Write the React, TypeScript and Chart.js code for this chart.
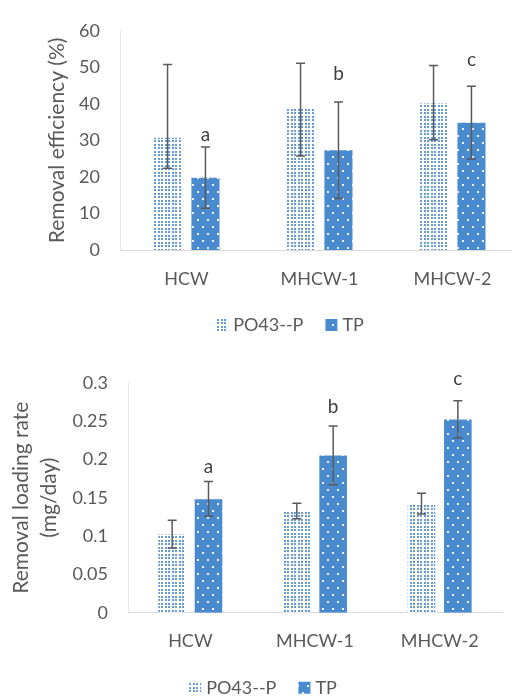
import React, { useEffect, useRef } from "react";
import { Chart, registerables } from "chart.js";
Chart.register(...registerables);

// ---------- data ----------
const categories = ["HCW", "MHCW-1", "MHCW-2"];
const seriesLabels = ["PO43--P", "TP"];

// Chart 1: removal efficiency (%)
const effPO4 = [30.7, 39.0, 40.1];
const effPO4Hi = [50.8, 51.1, 50.5];
const effPO4Lo = [22.4, 25.7, 30.2];
const effTP = [19.8, 27.3, 34.8];
const effTPHi = [28.2, 40.5, 44.8];
const effTPLo = [11.4, 14.1, 24.9];
const effLetters = ["a", "b", "c"];
const effLetterY = [31.6, 48.2, 52.1];
const effMax = 60;
const effStep = 10;
const effTitle = "Removal efficiency (%)";

// Chart 2: removal loading rate (mg/day)
const ratePO4 = [0.102, 0.132, 0.142];
const ratePO4Hi = [0.1205, 0.1427, 0.1557];
const ratePO4Lo = [0.0844, 0.1226, 0.1287];
const rateTP = [0.148, 0.205, 0.252];
const rateTPHi = [0.171, 0.2435, 0.2766];
const rateTPLo = [0.126, 0.167, 0.228];
const rateLetters = ["a", "b", "c"];
const rateLetterY = [0.19, 0.268, 0.305];
const rateMax = 0.3;
const rateStep = 0.05;
const rateTitle = ["Removal loading rate", "(mg/day)"];

// ---------- styles ----------
const BLUE = "#4a8bd0";
const TEXT = "#595959";
const FONT = "Lato";

function makePO4Pattern(ctx: CanvasRenderingContext2D) {
  const c = document.createElement("canvas");
  c.width = 7;
  c.height = 7;
  const g = c.getContext("2d")!;
  g.fillStyle = "#ffffff";
  g.fillRect(0, 0, 7, 7);
  g.fillStyle = BLUE;
  g.globalAlpha = 0.85;
  for (const x of [0, 4]) for (const y of [0, 4]) g.fillRect(x, y, 2, 2);
  return ctx.createPattern(c, "repeat")!;
}

function makeTPPattern(ctx: CanvasRenderingContext2D) {
  const c = document.createElement("canvas");
  c.width = 10;
  c.height = 14;
  const g = c.getContext("2d")!;
  g.fillStyle = BLUE;
  g.fillRect(0, 0, 10, 14);
  g.fillStyle = "rgba(255,255,255,0.9)";
  g.fillRect(2, 2, 2, 2);
  g.fillRect(7, 9, 2, 2);
  return ctx.createPattern(c, "repeat")!;
}

const errorBarPlugin = {
  id: "errorBars",
  afterDatasetsDraw(chart: any, _args: any, opts: any) {
    const { ctx } = chart;
    const y = chart.scales.y;
    ctx.save();
    ctx.strokeStyle = "#5a5a5a";
    ctx.lineWidth = 1.5;
    chart.data.datasets.forEach((_ds: any, d: number) => {
      const meta = chart.getDatasetMeta(d);
      meta.data.forEach((bar: any, i: number) => {
        const x = bar.x;
        const yh = y.getPixelForValue(opts.hi[d][i]);
        const yl = y.getPixelForValue(opts.lo[d][i]);
        ctx.beginPath();
        ctx.moveTo(x, yh);
        ctx.lineTo(x, yl);
        ctx.moveTo(x - 4.5, yh);
        ctx.lineTo(x + 4.5, yh);
        ctx.moveTo(x - 4.5, yl);
        ctx.lineTo(x + 4.5, yl);
        ctx.stroke();
      });
    });
    ctx.restore();
  },
};

const letterPlugin = {
  id: "letters",
  afterDatasetsDraw(chart: any, _args: any, opts: any) {
    const { ctx } = chart;
    const y = chart.scales.y;
    const meta = chart.getDatasetMeta(opts.dataset);
    ctx.save();
    ctx.fillStyle = "#404040";
    ctx.font = `19px ${FONT}`;
    ctx.textAlign = "center";
    ctx.textBaseline = "middle";
    opts.text.forEach((t: string, i: number) => {
      ctx.fillText(t, meta.data[i].x, y.getPixelForValue(opts.values[i]));
    });
    ctx.restore();
  },
};

const customLegendPlugin = {
  id: "customLegend",
  afterDraw(chart: any, _args: any, opts: any) {
    const { ctx, chartArea } = chart;
    ctx.save();
    ctx.font = `18px ${FONT}`;
    ctx.textBaseline = "middle";
    const box = 12;
    const gap = 5;
    const spacing = 22;
    const items = chart.data.datasets.map((ds: any) => ({
      label: ds.label,
      fill: ds.backgroundColor,
      w: box + gap + ctx.measureText(ds.label).width,
    }));
    const total = items.reduce((s: number, it: any) => s + it.w, 0) + spacing * (items.length - 1);
    let x = opts.centerX - total / 2;
    const yc = chartArea.bottom + opts.offsetY;
    items.forEach((it: any) => {
      ctx.fillStyle = it.fill;
      ctx.fillRect(x, yc - box / 2, box, box);
      ctx.fillStyle = TEXT;
      ctx.fillText(it.label, x + box + gap, yc);
      x += it.w + spacing;
    });
    ctx.restore();
  },
};

type PanelProps = {
  top: number;
  width: number;
  height: number;
  yAxisWidth: number;
  plotTop: number;
  plotBottom: number;
  rightPad: number;
  po4: number[];
  tp: number[];
  po4Hi: number[];
  po4Lo: number[];
  tpHi: number[];
  tpLo: number[];
  letters: string[];
  letterY: number[];
  yMax: number;
  yStep: number;
  title: string | string[];
  titlePad: number;
  catPct: number;
  barPct: number;
  legendCenterX: number;
};

function Panel(p: PanelProps) {
  const ref = useRef<HTMLCanvasElement>(null);
  useEffect(() => {
    const canvas = ref.current!;
    const ctx = canvas.getContext("2d")!;
    const chart = new Chart(ctx, {
      type: "bar",
      data: {
        labels: categories,
        datasets: [
          {
            label: seriesLabels[0],
            data: p.po4,
            backgroundColor: makePO4Pattern(ctx) as any,
            borderWidth: 0,
            categoryPercentage: p.catPct,
            barPercentage: p.barPct,
          },
          {
            label: seriesLabels[1],
            data: p.tp,
            backgroundColor: makeTPPattern(ctx) as any,
            borderWidth: 0,
            categoryPercentage: p.catPct,
            barPercentage: p.barPct,
          },
        ],
      },
      options: {
        responsive: false,
        animation: false,
        devicePixelRatio: 1,
        layout: { padding: { top: p.plotTop, left: 0, right: p.rightPad, bottom: 0 } },
        scales: {
          x: {
            grid: { display: false, drawTicks: false },
            border: { display: true, color: "#d9d9d9", width: 1 },
            ticks: { padding: 18, color: TEXT, font: { family: FONT, size: 18 } },
            afterFit: (s: any) => {
              s.height = p.height - p.plotBottom;
            },
          },
          y: {
            min: 0,
            max: p.yMax,
            ticks: {
              stepSize: p.yStep,
              padding: 20,
              color: TEXT,
              font: { family: FONT, size: 18 },
              callback: (v: any) => String(Math.round(Number(v) * 1000) / 1000),
            },
            grid: { display: false, drawTicks: false },
            border: { display: true, color: "#e6e6e6", width: 1 },
            title: {
              display: true,
              text: p.title,
              color: TEXT,
              font: { family: FONT, size: 21, lineHeight: 1.3 },
              padding: { top: p.titlePad, bottom: 0 },
            },
            afterFit: (s: any) => {
              s.width = p.yAxisWidth;
            },
          },
        },
        plugins: {
          legend: { display: false },
          tooltip: { enabled: false },
          errorBars: { hi: [p.po4Hi, p.tpHi], lo: [p.po4Lo, p.tpLo] },
          letters: { dataset: 1, text: p.letters, values: p.letterY },
          customLegend: { centerX: p.legendCenterX, offsetY: 75 },
        } as any,
      },
      plugins: [errorBarPlugin, letterPlugin, customLegendPlugin],
    });
    return () => chart.destroy();
  }, []);
  return (
    <canvas
      ref={ref}
      width={p.width}
      height={p.height}
      style={{ position: "absolute", left: 0, top: p.top, width: p.width, height: p.height }}
    />
  );
}

export default function App() {
  return (
    <div
      style={{
        position: "fixed",
        left: 0,
        top: 0,
        width: 512,
        height: 699,
        overflow: "hidden",
        background: "#ffffff",
      }}
    >
      <Panel
        top={0}
        width={520}
        height={340}
        yAxisWidth={120}
        plotTop={18.5}
        plotBottom={250}
        rightPad={1}
        po4={effPO4}
        tp={effTP}
        po4Hi={effPO4Hi}
        po4Lo={effPO4Lo}
        tpHi={effTPHi}
        tpLo={effTPLo}
        letters={effLetters}
        letterY={effLetterY}
        yMax={effMax}
        yStep={effStep}
        title={effTitle}
        titlePad={44}
        catPct={0.57}
        barPct={0.74}
        legendCenterX={290}
      />
      <Panel
        top={340}
        width={512}
        height={359}
        yAxisWidth={128}
        plotTop={42.7}
        plotBottom={272.7}
        rightPad={10}
        po4={ratePO4}
        tp={rateTP}
        po4Hi={ratePO4Hi}
        po4Lo={ratePO4Lo}
        tpHi={rateTPHi}
        tpLo={rateTPLo}
        letters={rateLetters}
        letterY={rateLetterY}
        yMax={rateMax}
        yStep={rateStep}
        title={rateTitle}
        titlePad={8}
        catPct={0.583}
        barPct={0.76}
        legendCenterX={263}
      />
    </div>
  );
}
